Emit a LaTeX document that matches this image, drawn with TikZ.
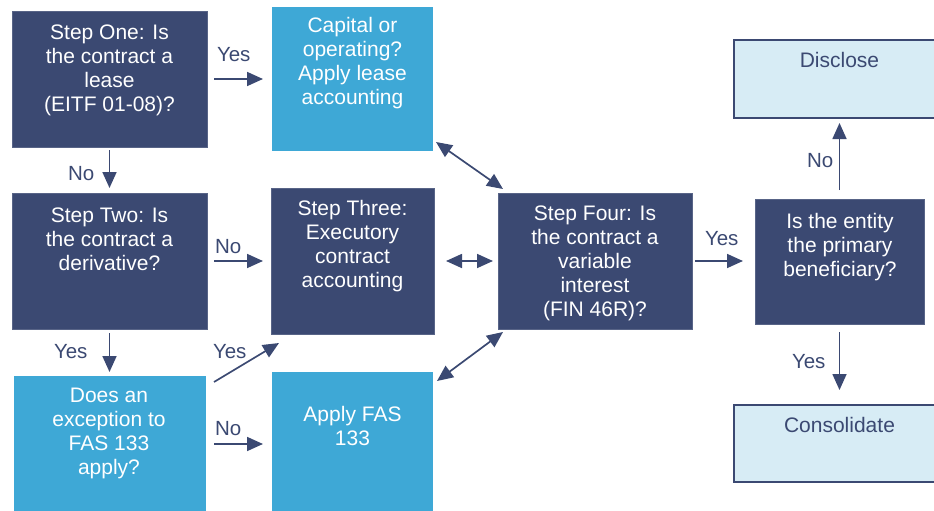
\documentclass[tikz,border=0pt]{standalone}
\usepackage{fontspec}
\setmainfont{Liberation Sans}
\usetikzlibrary{arrows.meta,calc}
\definecolor{navy}{RGB}{59,73,114}
\definecolor{skyblue}{RGB}{62,168,214}
\definecolor{paleblue}{RGB}{215,236,245}
\begin{document}
\begin{tikzpicture}[x=1pt,y=-1pt,
  every node/.style={inner sep=0pt, outer sep=0pt},
  darkbox/.style={rectangle, fill=navy, draw=navy!85!white, line width=0.6pt},
  lightbox/.style={rectangle, fill=skyblue},
  palebox/.style={rectangle, fill=paleblue, draw=navy, line width=1.6pt},
  boxtext/.style={anchor=north, align=center, font=\fontsize{21}{24}\selectfont},
  whitetext/.style={boxtext, text=white},
  navytext/.style={boxtext, text=navy},
  lbl/.style={anchor=base west, text=navy, font=\fontsize{20.5}{24}\selectfont},
  tip/.tip={Triangle[length=16pt,width=14pt]},
  arr/.style={draw=navy, line width=1.7pt, -tip},
  dblarr/.style={draw=navy, line width=1.7pt, tip-tip}
]
\useasboundingbox (0,0) rectangle (934,511);
\clip (0,0) rectangle (934,511);

% boxes (centre, width, height in px)
\node[darkbox, minimum width=195, minimum height=136] (one) at (109.5,79) {};
\node[lightbox, minimum width=161, minimum height=144] (lease) at (352.5,79) {};
\node[darkbox, minimum width=195, minimum height=136] (two) at (109.5,261) {};
\node[darkbox, minimum width=163, minimum height=146] (three) at (352.5,261) {};
\node[lightbox, minimum width=192, minimum height=140] (except) at (110,446) {};
\node[lightbox, minimum width=161, minimum height=144] (fas) at (352.5,444) {};
\node[darkbox, minimum width=194, minimum height=136] (four) at (595,261) {};
\node[darkbox, minimum width=169, minimum height=125] (benef) at (839.5,261.5) {};
\node[palebox, minimum width=211, minimum height=78] (disclose) at (839.5,79) {};
\node[palebox, minimum width=211, minimum height=77] (consol) at (839.5,443.5) {};

% box texts
\node[whitetext] (t1) at ($(one.north)+(0,14)$) {Step One: Is\\the contract a\\lease\\(EITF 01-08)?};
\node[whitetext] (tlease) at ($(lease.north)+(0,10)$) {Capital or\\operating?\\Apply lease\\accounting};
\node[whitetext] (t2) at ($(two.north)+(0,15)$) {Step Two: Is\\the contract a\\derivative?};
\node[whitetext] (t3) at ($(three.north)+(0,12)$) {Step Three:\\Executory\\contract\\accounting};
\node[whitetext] (texc) at ($(except.north)+(-1,12)$) {Does an\\exception to\\FAS 133\\apply?};
\node[whitetext] (tfas) at ($(fas.north)+(0,34)$) {Apply FAS\\133};
\node[whitetext] (t4) at ($(four.north)+(0,13)$) {Step Four: Is\\the contract a\\variable\\interest\\(FIN 46R)?};
\node[whitetext] (tben) at ($(benef.north)+(0.5,14)$) {Is the entity\\the primary\\beneficiary?};
\node[navytext] (tdis) at ($(disclose.north)+(0,12)$) {Disclose};
\node[navytext] (tcon) at ($(consol.north)+(0,12)$) {Consolidate};

% connectors
\draw[arr, shorten <=7pt, shorten >=9pt] (one) -- (lease);
\draw[arr, shorten <=3pt, shorten >=5pt] (one.south) -- (two.north);
\draw[arr, shorten <=7pt, shorten >=8pt] (two) -- (three);
\draw[arr, shorten <=4pt, shorten >=4pt] (two.south) -- (two.south |- except.north);
\draw[arr] ($(except.north east)+(8,6)$) -- ($(three.south west)+(8,9)$);
\draw[arr, shorten <=8pt, shorten >=9pt] (except.east |- fas.center) -- (fas.west);
\draw[dblarr] ($(lease.south east)+(3,-9)$) -- ($(four.north west)+(5,-4)$);
\draw[dblarr, shorten <=12pt, shorten >=5pt] (three.east |- four.center) -- (four.west);
\draw[dblarr] ($(four.south west)+(5,3)$) -- ($(fas.north east)+(4,9)$);
\draw[arr, shorten <=3pt, shorten >=12pt] (four.east) -- (four.east -| benef.west);
\draw[arr, shorten <=9pt, shorten >=5pt] (benef.north) -- (benef.north |- disclose.south);
\draw[arr, shorten <=8pt, shorten >=15pt] (benef.south) -- (benef.south |- consol.north);

% branch labels
\node[lbl] (y1) at (217,62) {Yes};
\node[lbl] (n1) at (68,180) {No};
\node[lbl] (n2) at (215,253) {No};
\node[lbl] (y2) at (54,358) {Yes};
\node[lbl] (y3) at (213,358) {Yes};
\node[lbl] (n3) at (215,435) {No};
\node[lbl] (y4) at (705,245) {Yes};
\node[lbl] (n4) at (807,167) {No};
\node[lbl] (y5) at (792,368) {Yes};
\end{tikzpicture}
\end{document}
